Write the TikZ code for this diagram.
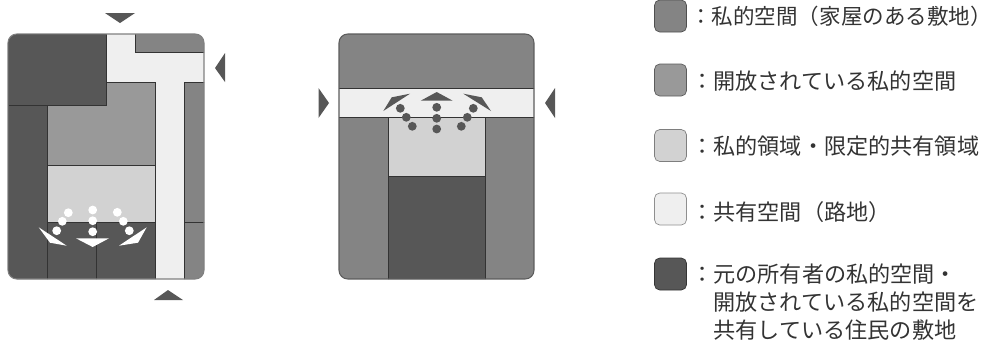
\documentclass[tikz,border=0pt]{standalone}
\usepackage{fontspec}
\setmainfont{Noto Sans CJK JP}
\usepackage{tikz}
\usetikzlibrary{positioning}

\definecolor{privategray}{HTML}{848484}
\definecolor{opengray}{HTML}{999999}
\definecolor{limitedgray}{HTML}{D2D2D2}
\definecolor{alleygray}{HTML}{EFEFEF}
\definecolor{ownergray}{HTML}{575757}
\definecolor{inkgray}{HTML}{333333}

\tikzset{
  block/.style={draw=inkgray, line width=0.5pt},
  marker/.style={fill=ownergray, draw=none},
  swatch/.style={draw=#1!60!black, line width=0.4pt, rounded corners=3pt, fill=#1,
    minimum width=0.64cm, minimum height=0.64cm, inner sep=0pt},
  legendtext/.style={font=\fontsize{12.6}{16}\selectfont, text=inkgray, inner sep=0pt, align=left}
}

\begin{document}
\begin{tikzpicture}[x=0.02cm, y=-0.02cm]
  \useasboundingbox (0,0) rectangle (996,339);

  % Left plan
  \begin{scope}
    \begin{scope}
      \clip[rounded corners=5pt] (8,34) rectangle (204,279);
      \fill[alleygray] (8,34) rectangle (204,279);
      % Open private space
      \draw[block, fill=opengray] (47,82) rectangle (155,165);
      \draw[block, fill=limitedgray] (47,165) rectangle (155,222);
      % Owner lots
      \draw[block, fill=ownergray] (8,34) rectangle (106,105);
      \draw[block, fill=ownergray] (8,105) rectangle (47,279);
      \draw[block, fill=ownergray] (47,222) rectangle (96,279);
      \draw[block, fill=ownergray] (96,222) rectangle (155,279);
      % Houses on the right
      \draw[block, fill=privategray] (135,20) rectangle (210,52);
      \draw[block, fill=privategray] (184,82) rectangle (210,222);
      \draw[block, fill=privategray] (184,222) rectangle (210,290);
    \end{scope}
    \draw[gray, line width=0.6pt, rounded corners=5pt] (8,34) rectangle (204,279);

    % Entrances
    \fill[marker] (105,13) -- (135,13) -- (120,23) -- cycle;
    \fill[marker] (225,53) -- (225,82) -- (215,68) -- cycle;
    \fill[marker] (154,300) -- (183,300) -- (168,290) -- cycle;

    % Movement
    \fill[white] (38.7,227.3) -- (66.7,245.7) -- (50,242.7) -- cycle;
    \fill[white] (76,238.3) -- (109,238.3) -- (92.7,247) -- cycle;
    \fill[white] (146.7,227.3) -- (119,245.7) -- (138,242.7) -- cycle;
    \foreach \x/\y in {68.3/212.7, 62.3/221.3, 56.7/230.7, 92.7/210, 92.7/220.7, 92.7/231.7, 117.3/212.3, 123.3/221.3, 129.3/230.7} {
      \fill[white] (\x,\y) circle (2.5pt);
    }
  \end{scope}

  % Right plan
  \begin{scope}[shift={(331,0)}]
    \begin{scope}
      \clip[rounded corners=5pt] (8,34) rectangle (203,279);
      \fill[privategray] (8,34) rectangle (203,279);
      \draw[block, fill=alleygray] (0,88) rectangle (210,117);
      \draw[block, fill=limitedgray] (57,117) rectangle (154,176);
      \draw[block, fill=ownergray] (57,176) rectangle (154,285);
    \end{scope}
    \draw[inkgray!80, line width=0.6pt, rounded corners=5pt] (8,34) rectangle (203,279);

    % Entrances
    \fill[marker] (-12.5,88) -- (-12.5,118) -- (-2,103) -- cycle;
    \fill[marker] (224,88) -- (224,118) -- (214,103) -- cycle;

    % Movement
    \fill[ownergray] (79,93.7) -- (52.3,111) -- (60.7,97.3) -- cycle;
    \fill[ownergray] (105.7,92) -- (89.7,100.7) -- (121.7,100.7) -- cycle;
    \fill[ownergray] (132.3,93.7) -- (160,111) -- (150.7,97.3) -- cycle;
    \foreach \x/\y in {69.3/108.3, 75.3/117.3, 81.3/126.3, 105.7/107.3, 105.7/118.3, 105.7/129, 142.3/108.3, 136.3/117.3, 130.3/126.3} {
      \fill[ownergray] (\x,\y) circle (2.5pt);
    }
  \end{scope}

  % Legend
  \node[swatch=privategray] (privatebox) at (670.5,16) {};
  \node[swatch=opengray] (openbox) at (670.5,80) {};
  \node[swatch=limitedgray] (limitedbox) at (670.5,145.5) {};
  \node[swatch=alleygray] (alleybox) at (670.5,209) {};
  \node[swatch=ownergray] (ownerbox) at (670.5,274) {};

  \node[legendtext, font=\fontsize{12.25}{16}\selectfont, anchor=west] (privatetext) at (690,16.5) {：私的空間（家屋のある敷地）};
  \node[legendtext, anchor=west] (opentext) at (691,81.5) {：開放されている私的空間};
  \node[legendtext, anchor=west] (limitedtext) at (691,146) {：私的領域・限定的共有領域};
  \node[legendtext, anchor=west] (alleytext) at (691,212) {：共有空間（路地）};
  \node[legendtext, anchor=north west] (ownertext) at (691,263) {：元の所有者の私的空間・\\　開放されている私的空間を\\　共有している住民の敷地};
\end{tikzpicture}
\end{document}
